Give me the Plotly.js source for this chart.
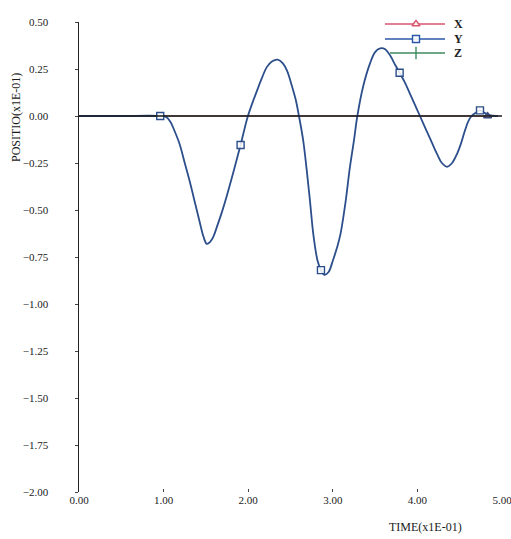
<!DOCTYPE html>
<html>
<head>
<meta charset="utf-8">
<script src="https://cdn.plot.ly/plotly-3.0.1.min.js"></script>
<style>
  html, body { margin: 0; padding: 0; background: #fff; }
  #chart { width: 511px; height: 539px; }
</style>
</head>
<body>
<div id="chart"></div>
<script>
// Response of the Y component over time (both axes scaled by 1E-01)
const timeY = [0.00, 0.50, 0.96, 1.03, 1.08, 1.13, 1.19, 1.25, 1.31, 1.37, 1.43, 1.47, 1.51, 1.55,
               1.59, 1.63, 1.69, 1.75, 1.83, 1.91, 1.99, 2.05, 2.10, 2.16, 2.22, 2.28, 2.35, 2.41,
               2.46, 2.51, 2.56, 2.60, 2.65, 2.69, 2.73, 2.77, 2.82, 2.86, 2.90, 2.95, 3.00, 3.05,
               3.09, 3.15, 3.20, 3.25, 3.29, 3.36, 3.44, 3.50, 3.56, 3.62, 3.68, 3.74, 3.79, 3.85,
               3.91, 3.97, 4.03, 4.11, 4.17, 4.23, 4.29, 4.35, 4.41, 4.47, 4.52, 4.56, 4.60, 4.64,
               4.70, 4.74, 4.80, 4.85, 4.95];
const positionY = [0.00, 0.00, 0.00, -0.005, -0.03, -0.08, -0.15, -0.25, -0.35, -0.46, -0.57, -0.64, -0.68, -0.67,
                   -0.64, -0.59, -0.51, -0.42, -0.29, -0.154, -0.01, 0.07, 0.13, 0.20, 0.26, 0.29, 0.30, 0.28,
                   0.24, 0.17, 0.09, 0.00, -0.13, -0.28, -0.45, -0.63, -0.77, -0.82, -0.845, -0.83, -0.77, -0.70,
                   -0.63, -0.46, -0.28, -0.13, 0.00, 0.16, 0.28, 0.34, 0.36, 0.355, 0.32, 0.27, 0.23, 0.18,
                   0.12, 0.06, 0.00, -0.08, -0.14, -0.20, -0.25, -0.27, -0.25, -0.20, -0.14, -0.08, -0.03, 0.00,
                   0.02, 0.03, 0.015, 0.005, 0.00];
const markTimesY = [0.96, 1.91, 2.86, 3.79, 4.74];

// X and Z components stay at rest
const timeX = [0.00, 4.83, 4.95];
const positionX = [0.00, 0.00, 0.00];
const markTimesX = [4.83];
const timeZ = [0.00, 4.95];
const positionZ = [0.00, 0.00];

const seriesNames = ['X', 'Y', 'Z'];
const xTickVals = [0, 1, 2, 3, 4, 5];
const yTickVals = [0.5, 0.25, 0, -0.25, -0.5, -0.75, -1, -1.25, -1.5, -1.75, -2];
const xTitle = 'TIME(x1E-01)';
const yTitle = 'POSITIO(x1E-01)';

// ---- styling ----
const W = 511, H = 539;
const M = { l: 79, r: 9, t: 22, b: 47 };
const colors = { X: '#d4506c', Y: '#2c4f8c', Z: '#3e8a60' };
const legendColors = { X: '#d9566f', Y: '#2a58a8', Z: '#3d8a5e' };
const symbols = { X: 'triangle-up', Y: 'square', Z: 'line-ns' };
const serif = 'Liberation Serif, Times New Roman, serif';

function pick(ts, vs, wanted) {
  const out = { x: [], y: [] };
  wanted.forEach(w => {
    const i = ts.findIndex(t => Math.abs(t - w) < 1e-9);
    if (i >= 0) { out.x.push(ts[i]); out.y.push(vs[i]); }
  });
  return out;
}

const traces = [];
traces.push({ x: timeZ, y: positionZ, mode: 'lines', line: { color: colors.Z, width: 1.2 }, showlegend: false, hoverinfo: 'skip' });
traces.push({ x: timeX, y: positionX, mode: 'lines', line: { color: colors.X, width: 1.2 }, showlegend: false, hoverinfo: 'skip' });
traces.push({ x: timeY, y: positionY, mode: 'lines', line: { color: colors.Y, width: 1.8, shape: 'spline', smoothing: 1 }, showlegend: false, hoverinfo: 'skip' });

const mX = pick(timeX, positionX, markTimesX);
traces.push({ x: mX.x, y: mX.y, mode: 'markers', cliponaxis: false, showlegend: false,
  marker: { symbol: symbols.X, size: 7, color: 'rgba(255,255,255,0)', line: { color: '#3a4a80', width: 1.3 } } });
const mY = pick(timeY, positionY, markTimesY);
traces.push({ x: mY.x, y: mY.y, mode: 'markers', cliponaxis: false, showlegend: false,
  marker: { symbol: symbols.Y, size: 7, color: 'rgba(255,255,255,0.85)', line: { color: colors.Y, width: 1.4 } } });

// legend drawn in pixel space on an overlay axis pair
const legX0 = 385, legX1 = 445, legRows = [24, 39, 53];
seriesNames.forEach((name, k) => {
  const yy = legRows[k];
  const x0 = name === 'Z' ? legX0 + 5 : legX0;
  traces.push({ x: [x0, legX1], y: [yy, yy], xaxis: 'x2', yaxis: 'y2', mode: 'lines',
    line: { color: legendColors[name], width: 1.5 }, showlegend: false, hoverinfo: 'skip' });
  traces.push({ x: [(legX0 + legX1) / 2 + 1], y: [yy], xaxis: 'x2', yaxis: 'y2', mode: 'markers', cliponaxis: false,
    marker: { symbol: symbols[name], size: name === 'Z' ? 9 : 7,
      color: name === 'Z' ? legendColors[name] : 'rgba(255,255,255,0.9)',
      line: { color: legendColors[name], width: 1.4 } }, showlegend: false, hoverinfo: 'skip' });
});

const annotations = seriesNames.map((name, k) => ({
  xref: 'x2', yref: 'y2', x: 452, y: legRows[k], xanchor: 'left', yanchor: 'middle',
  text: '<b>' + name + '</b>', showarrow: false, font: { family: serif, size: 12, color: '#222' }
}));
annotations.push({
  xref: 'paper', yref: 'paper', x: 0, y: (H - M.b - 118) / (H - M.t - M.b), xshift: -63,
  xanchor: 'center', yanchor: 'middle', textangle: -90, text: yTitle, showarrow: false,
  font: { family: serif, size: 12, color: '#1a1a1a' }
});
annotations.push({
  xref: 'paper', yref: 'paper', x: (425 - M.l) / (W - M.l - M.r), y: 0, yshift: -35,
  xanchor: 'center', yanchor: 'middle', text: xTitle, showarrow: false,
  font: { family: serif, size: 12, color: '#1a1a1a' }
});

const layout = {
  width: W, height: H,
  margin: M,
  paper_bgcolor: '#fff', plot_bgcolor: '#fff',
  showlegend: false,
  font: { family: serif, size: 11, color: '#1a1a1a' },
  xaxis: {
    range: [0, 5], tickvals: xTickVals, tickformat: '.2f',
    showline: false, showgrid: false, zeroline: false,
    ticks: 'inside', ticklen: 3, tickwidth: 1, tickcolor: '#444',
    ticklabeloverflow: 'allow',
    tickfont: { family: serif, size: 11, color: '#1a1a1a' }
  },
  yaxis: {
    range: [-2, 0.5], tickvals: yTickVals, tickformat: '.2f',
    showline: true, linecolor: '#222', linewidth: 1.5,
    showgrid: false, zeroline: false,
    ticks: 'outside', ticklen: 3, tickwidth: 1, tickcolor: '#444',
    ticklabelstandoff: 24, ticklabeloverflow: 'allow',
    tickfont: { family: serif, size: 11, color: '#1a1a1a' }
  },
  xaxis2: { overlaying: 'x', range: [M.l, W - M.r], visible: false, fixedrange: true },
  yaxis2: { overlaying: 'y', range: [H - M.b, M.t], visible: false, fixedrange: true },
  shapes: [{
    type: 'line', xref: 'x', yref: 'y', x0: 0, x1: 5, y0: 0, y1: 0, layer: 'above',
    line: { color: '#1a1a1a', width: 1.5 }
  }],
  annotations: annotations
};

Plotly.newPlot('chart', traces, layout, { displayModeBar: false, staticPlot: true });
</script>
</body>
</html>
